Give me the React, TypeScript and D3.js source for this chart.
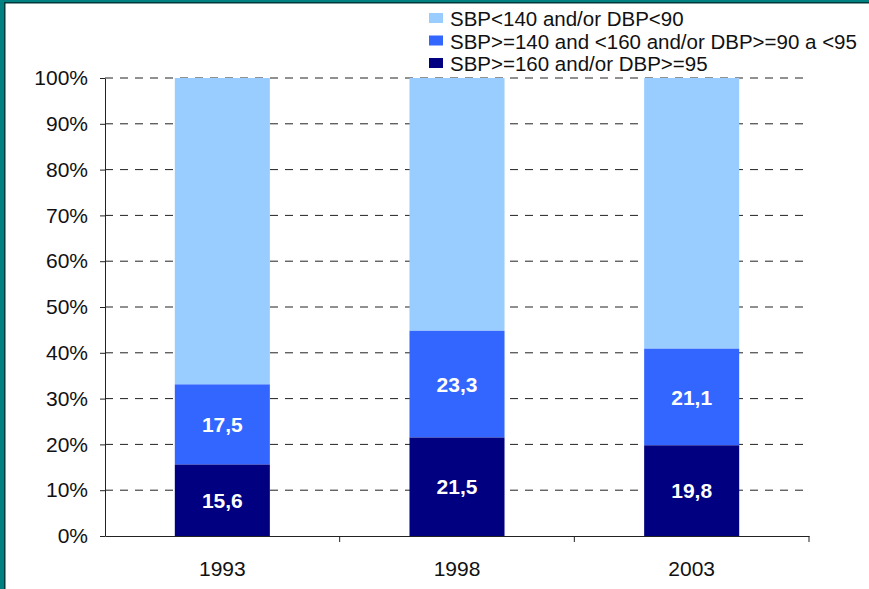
import * as d3 from "d3";
import { useEffect, useRef } from "react";

const years = ["1993", "1998", "2003"];
const high = [15.6, 21.5, 19.8];
const mid = [17.5, 23.3, 21.1];
const seriesNames = [
  "SBP<140 and/or DBP<90",
  "SBP>=140 and <160 and/or DBP>=90 a <95",
  "SBP>=160 and/or DBP>=95",
];
const seriesColors = ["#99ccff", "#3366ff", "#000080"];
const yTicks = [0, 10, 20, 30, 40, 50, 60, 70, 80, 90, 100];

export default function App() {
  const ref = useRef<SVGSVGElement>(null);

  useEffect(() => {
    if (!ref.current) return;
    const svg = d3.select(ref.current);
    svg.selectAll("*").remove();

    const width = 869,
      height = 589;
    const margin = { top: 78, right: 60, bottom: 53, left: 105 };
    const font = "Liberation Sans, Arial, sans-serif";
    const fs = "21px";

    svg.attr("width", width).attr("height", height);

    svg.append("rect").attr("width", width).attr("height", height).attr("fill", "#fff");

    // frame
    svg.append("rect").attr("x", 0).attr("y", 0).attr("width", 4).attr("height", height).attr("fill", "#008080");
    svg.append("rect").attr("x", 4).attr("y", 2).attr("width", 1.5).attr("height", height).attr("fill", "#003838");
    svg.append("rect").attr("x", 0).attr("y", 0).attr("width", width).attr("height", 2).attr("fill", "#008080");
    svg.append("rect").attr("x", 4).attr("y", 2).attr("width", width).attr("height", 1.5).attr("fill", "#003838");

    const x = d3
      .scaleBand()
      .domain(years)
      .range([margin.left, width - margin.right]);

    const y = d3
      .scaleLinear()
      .domain([0, 100])
      .range([height - margin.bottom, margin.top]);

    const barW = x.bandwidth() * 0.405;

    // Grid lines
    svg.append("g")
      .selectAll("line")
      .data(yTicks.filter((t) => t > 0))
      .enter()
      .append("line")
      .attr("x1", margin.left)
      .attr("x2", width - margin.right)
      .attr("y1", (d) => y(d))
      .attr("y2", (d) => y(d))
      .attr("stroke", "#222")
      .attr("stroke-width", 1)
      .attr("stroke-dasharray", "8,7");

    // stacked bars
    const rows = years.map((yr, i) => ({
      year: yr,
      segs: [
        { v0: high[i] + mid[i], v1: 100, c: 0 },
        { v0: high[i], v1: high[i] + mid[i], c: 1, label: mid[i] },
        { v0: 0, v1: high[i], c: 2, label: high[i] },
      ],
    }));

    const g = svg.append("g");
    rows.forEach((r) => {
      const cx = (x(r.year) as number) + x.bandwidth() / 2;
      r.segs.forEach((s) => {
        g.append("rect")
          .attr("x", cx - barW / 2)
          .attr("y", y(s.v1))
          .attr("width", barW)
          .attr("height", y(s.v0) - y(s.v1))
          .attr("fill", seriesColors[s.c]);
        if (s.label !== undefined) {
          g.append("text")
            .attr("x", cx)
            .attr("y", (y(s.v0) + y(s.v1)) / 2)
            .attr("dy", "0.36em")
            .attr("text-anchor", "middle")
            .attr("fill", "#fff")
            .attr("font-family", font)
            .attr("font-weight", "bold")
            .attr("font-size", fs)
            .text(String(s.label).replace(".", ","));
        }
      });
    });

    // Y-axis
    const yAxis = svg.append("g")
      .attr("transform", `translate(${margin.left}, 0)`)
      .call(d3.axisLeft(y).tickValues(yTicks).tickSize(5).tickSizeOuter(0).tickFormat((d) => `${d}%`));
    yAxis.select(".domain").attr("stroke", "#222");
    yAxis.selectAll(".tick line").attr("stroke", "#222");
    yAxis.selectAll("text")
      .attr("fill", "#111")
      .attr("font-family", font)
      .attr("font-size", fs)
      .attr("x", -17);

    // X-axis
    const xAxis = svg.append("g")
      .attr("transform", `translate(0, ${height - margin.bottom})`)
      .call(d3.axisBottom(x).tickSize(0).tickSizeOuter(0));
    xAxis.select(".domain").attr("stroke", "#222");
    xAxis.selectAll("text")
      .attr("fill", "#111")
      .attr("font-family", font)
      .attr("font-size", fs)
      .attr("dy", "0")
      .attr("y", 40);
    // category separators
    xAxis.append("g")
      .selectAll("line")
      .data(years)
      .enter()
      .append("line")
      .attr("x1", (d) => (x(d) as number) + x.bandwidth())
      .attr("x2", (d) => (x(d) as number) + x.bandwidth())
      .attr("y1", 0)
      .attr("y2", 6)
      .attr("stroke", "#222");

    // Legend
    const legend = svg.append("g").attr("transform", "translate(429, 6)");
    seriesNames.forEach((name, i) => {
      const row = legend.append("g").attr("transform", `translate(0, ${i * 22.5})`);
      row.append("rect")
        .attr("x", 0)
        .attr("y", 7)
        .attr("width", 14)
        .attr("height", 10)
        .attr("fill", seriesColors[i]);
      row.append("text")
        .attr("x", 21)
        .attr("y", 20)
        .attr("fill", "#111")
        .attr("font-family", font)
        .attr("font-size", "20.5px")
        .text(name);
    });
  }, []);

  return <svg ref={ref} style={{ position: "absolute", left: 0, top: 0 }} />;
}
